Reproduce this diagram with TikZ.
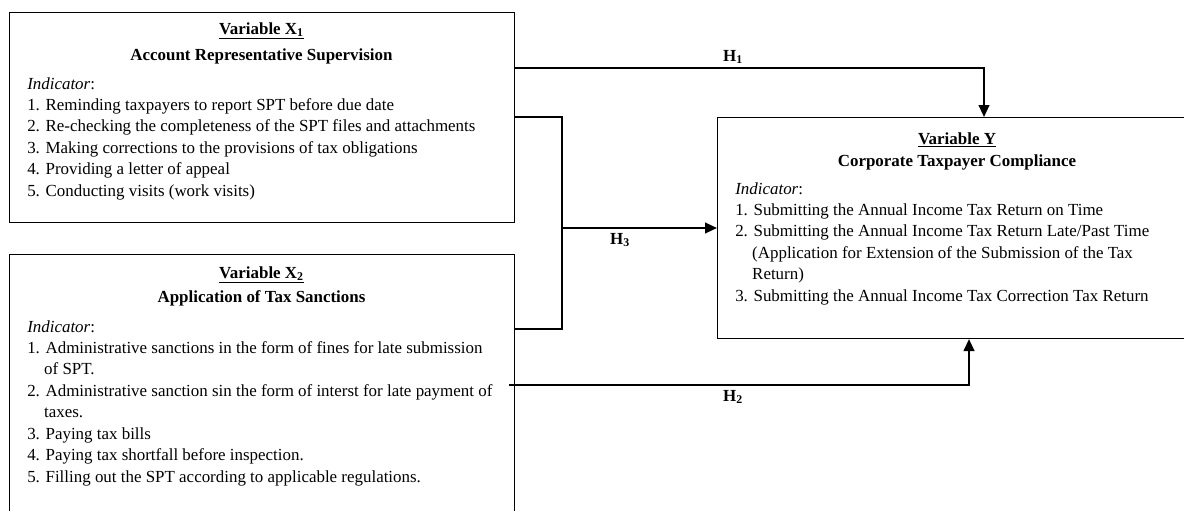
\documentclass[tikz,border=0pt]{standalone}
\usepackage{fontspec}
\setmainfont{Liberation Serif}
\usetikzlibrary{calc,arrows.meta}
\tikzset{
  varbox/.style={draw, line width=0.8pt, rectangle, inner sep=0pt, anchor=north west},
  ttl/.style={inner sep=0pt, font=\bfseries\fontsize{12.7}{14}\selectfont},
  lst/.style={inner sep=0pt, anchor=north west, align=left, font=\fontsize{12.7}{16.1}\selectfont},
  hlbl/.style={inner sep=0pt, font=\bfseries\fontsize{12.7}{14}\selectfont},
  hyp/.style={line width=1.6pt, -{Triangle[length=9pt,width=8pt]}},
  link/.style={line width=0.8pt},
}
\begin{document}
\begin{tikzpicture}[x=0.75pt,y=0.75pt,yscale=-1,xscale=1]
\useasboundingbox (0,0) rectangle (1184,510);
\clip (0,0) rectangle (1184,510);

%Shape: Rectangle
\node[varbox, minimum width=378.75pt, minimum height=157.5pt] (x1) at (9,12) {};
%Shape: Rectangle
\node[varbox, minimum width=378.75pt, minimum height=207pt] (x2) at (9,254) {};
%Shape: Rectangle
\node[varbox, minimum width=362.25pt, minimum height=165.75pt] (y) at (717,117) {};

% Text Node
\node[ttl] (x1var) at (261.5,31) {\underline{Variable X\textsubscript{1}}};
% Text Node
\node[ttl] (x1name) at (261.5,56) {Account Representative Supervision};
% Text Node
\node[lst] (x1list) at (27,77) {\textit{Indicator}:\\
1. Reminding taxpayers to report SPT before due date\\
2. Re-checking the completeness of the SPT files and attachments\\
3. Making corrections to the provisions of tax obligations\\
4. Providing a letter of appeal\\
5. Conducting visits (work visits)};

% Text Node
\node[ttl] (x2var) at (261.5,275) {\underline{Variable X\textsubscript{2}}};
% Text Node
\node[ttl] (x2name) at (261.5,298) {Application of Tax Sanctions};
% Text Node
\node[lst] (x2list) at (27,320) {\textit{Indicator}:\\
1. Administrative sanctions in the form of fines for late submission\\
\hspace*{1em}of SPT.\\
2. Administrative sanction sin the form of interst for late payment of\\
\hspace*{1em}taxes.\\
3. Paying tax bills\\
4. Paying tax shortfall before inspection.\\
5. Filling out the SPT according to applicable regulations.};

% Text Node
\node[ttl] (yvar) at (957,140) {\underline{Variable Y}};
% Text Node
\node[ttl] (yname) at (957,162) {Corporate Taxpayer Compliance};
% Text Node
\node[lst] (ylist) at (735,182) {\textit{Indicator}:\\
1. Submitting the Annual Income Tax Return on Time\\
2. Submitting the Annual Income Tax Return Late/Past Time\\
\hspace*{1em}(Application for Extension of the Submission of the Tax\\
\hspace*{1em}Return)\\
3. Submitting the Annual Income Tax Correction Tax Return};

%Straight Lines
\draw[hyp] ($(x1.north east)+(0,56)$) -| ($(y.north west)+(267,0)$);
%Straight Lines
\coordinate (join) at (562,228);
\draw[link] ($(x1.north east)+(0,105)$) -| (join) |- ($(x2.north east)+(0,75)$);
\draw[hyp] (join) -- (join -| y.west);
%Straight Lines
\draw[hyp] ($(x2.north east)+(-6,131)$) -| ($(y.south west)+(252,0)$);

% Text Node
\node[hlbl] (h1) at (733,57) {H\textsubscript{1}};
% Text Node
\node[hlbl] (h3) at (620,240) {H\textsubscript{3}};
% Text Node
\node[hlbl] (h2) at (733,397) {H\textsubscript{2}};
\end{tikzpicture}
\end{document}
